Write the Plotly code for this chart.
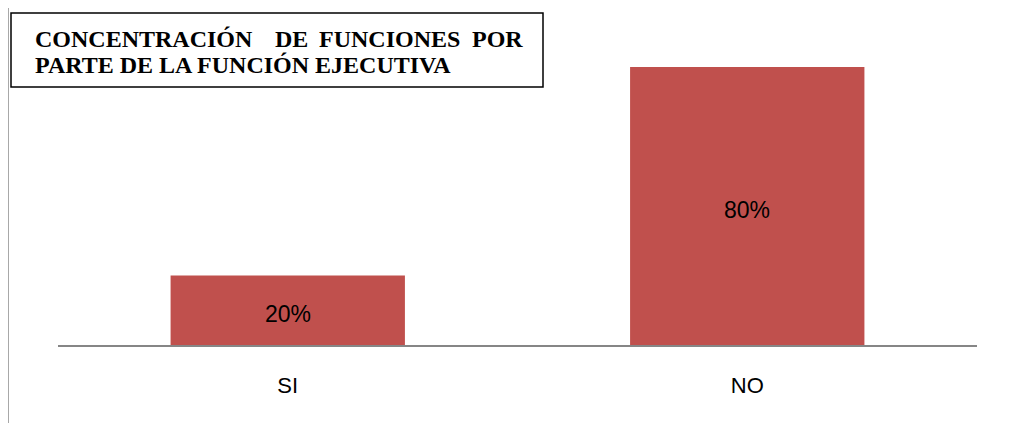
import plotly.graph_objects as go

categories = ["SI", "NO"]
values = [0.20, 0.80]
labels = ["20%", "80%"]
title_words_line1 = ["CONCENTRACIÓN", "DE", "FUNCIONES", "POR"]
title_line2 = "PARTE DE LA FUNCIÓN EJECUTIVA"

W, H = 1027, 423
OFF = 8  # page offset of the figure inside the browser window
# plot-area edges in screen pixels
SL, SR, ST, SB = 58, 977, 67, 345
L, T = SL - OFF, ST - OFF
R = W - (SR - OFF)
B = H - (SB - OFF)

def px(x):
    return (x - SL) / (SR - SL)

def py(y):
    return (SB - y) / (SB - ST)

title_font = dict(family="Liberation Serif, Times New Roman", size=24, color="#000")
label_font = dict(family="Liberation Sans, Arial", size=23, color="#000000")

fig = go.Figure(go.Bar(
    x=categories, y=values,
    marker=dict(color="#C0504D", line=dict(width=0)),
    width=0.51,
))

# data labels placed at the middle of each bar, nudged slightly down
annotations = [
    dict(text=lab, x=c, y=v / 2, xref="x", yref="y", showarrow=False,
         yshift=-4, font=label_font)
    for c, v, lab in zip(categories, values, labels)
]

word_x = [33, 273, 317, 470]
annotations += [
    dict(text="<b>" + w + "</b>", xref="paper", yref="paper",
         x=px(xx), y=py(39), xanchor="left", yanchor="middle", showarrow=False,
         font=title_font)
    for w, xx in zip(title_words_line1, word_x)
]
annotations.append(
    dict(text="<b>" + title_line2 + "</b>", xref="paper", yref="paper",
         x=px(33), y=py(65), xanchor="left", yanchor="middle", showarrow=False,
         font=title_font))

fig.update_layout(
    width=W, height=H,
    margin=dict(l=L, r=R, t=T, b=B),
    paper_bgcolor="white", plot_bgcolor="white",
    showlegend=False,
    xaxis=dict(showline=True, linecolor="#868686", linewidth=1.5, ticks="",
               tickfont=dict(family="Liberation Sans, Arial", size=22, color="#000000"),
               ticklabelstandoff=20, showgrid=False, zeroline=False),
    yaxis=dict(range=[0, 0.8], visible=False, showgrid=False, zeroline=False),
    shapes=[
        dict(type="rect", xref="paper", yref="paper",
             x0=px(8), x1=px(1040), y0=py(440), y1=py(3),
             line=dict(color="#8c8c8c", width=1.5), layer="below"),
        dict(type="rect", xref="paper", yref="paper",
             x0=px(11), x1=px(543), y0=py(87), y1=py(13),
             line=dict(color="#000000", width=1.5), fillcolor="white"),
    ],
    annotations=annotations,
)

fig.write_html("out.html")
